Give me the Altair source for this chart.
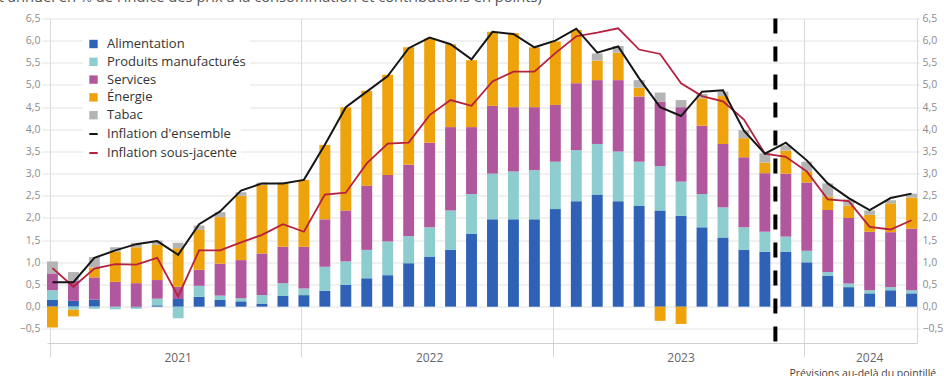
import altair as alt
import pandas as pd

mois = [f"{a}-{m:02d}" for a in (2021, 2022, 2023) for m in range(1, 13)] + [f"2024-{m:02d}" for m in range(1, 7)]

alimentation = [0.15, 0.13, 0.16, 0.0, -0.02, 0.03, 0.17, 0.22, 0.15, 0.12, 0.07, 0.24,
                0.26, 0.36, 0.49, 0.64, 0.71, 0.98, 1.13, 1.28, 1.64, 1.97, 1.97, 1.97,
                2.2, 2.38, 2.53, 2.38, 2.27, 2.17, 2.05, 1.79, 1.56, 1.28, 1.24, 1.24,
                1.0, 0.7, 0.44, 0.3, 0.37, 0.3]
manufactures = [0.22, -0.07, -0.05, -0.06, -0.03, 0.15, -0.26, 0.25, 0.1, 0.07, 0.19, 0.29,
                0.15, 0.54, 0.53, 0.64, 0.76, 0.61, 0.66, 0.89, 0.9, 1.03, 1.08, 1.11,
                1.07, 1.15, 1.14, 1.12, 1.0, 1.0, 0.77, 0.75, 0.68, 0.51, 0.45, 0.34,
                0.26, 0.08, 0.08, 0.07, 0.07, 0.07]
services = [0.38, 0.45, 0.5, 0.56, 0.53, 0.42, 0.28, 0.36, 0.72, 0.86, 0.94, 0.82,
            0.94, 1.07, 1.15, 1.45, 1.5, 1.61, 1.91, 1.88, 1.51, 1.53, 1.45, 1.42,
            1.28, 1.51, 1.44, 1.61, 1.47, 1.45, 1.68, 1.54, 1.43, 1.58, 1.32, 1.42,
            1.54, 1.4, 1.48, 1.32, 1.24, 1.39]
energie = [-0.47, -0.15, 0.22, 0.68, 0.81, 0.79, 0.87, 0.9, 1.05, 1.45, 1.55, 1.43,
           1.51, 1.68, 2.33, 2.14, 2.26, 2.65, 2.35, 1.87, 1.51, 1.67, 1.67, 1.35,
           1.43, 1.2, 0.44, 0.62, 0.2, -0.32, -0.39, 0.62, 1.08, 0.43, 0.24, 0.52,
           0.25, 0.3, 0.28, 0.38, 0.65, 0.7]
tabac = [0.27, 0.2, 0.24, 0.1, 0.1, 0.1, 0.12, 0.1, 0.11, 0.08, 0.05, 0.02,
         0.0, 0.0, 0.0, 0.0, 0.0, 0.0, 0.0, 0.0, 0.0, 0.0, 0.0, 0.0,
         0.0, 0.0, 0.16, 0.15, 0.17, 0.21, 0.16, 0.1, 0.1, 0.18, 0.21, 0.12,
         0.22, 0.3, 0.14, 0.1, 0.07, 0.09]
ensemble = [0.55, 0.55, 1.1, 1.27, 1.41, 1.48, 1.17, 1.86, 2.15, 2.62, 2.78, 2.78,
            2.86, 3.65, 4.5, 4.85, 5.2, 5.83, 6.07, 5.92, 5.58, 6.2, 6.15, 5.85,
            6.0, 6.27, 5.73, 5.87, 5.15, 4.5, 4.3, 4.85, 4.88, 3.97, 3.45, 3.7,
            3.3, 2.78, 2.45, 2.18, 2.45, 2.55]
sous_jacente = [0.87, 0.45, 0.86, 0.96, 0.95, 1.1, 0.23, 1.27, 1.27, 1.45, 1.62, 1.86,
                1.69, 2.53, 2.57, 3.23, 3.68, 3.7, 4.32, 4.66, 4.53, 5.08, 5.3, 5.3,
                5.72, 6.1, 6.18, 6.28, 5.8, 5.7, 5.04, 4.75, 4.63, 4.22, 3.45, 3.38,
                3.05, 2.42, 2.38, 1.8, 1.74, 1.95]

composantes = ["Alimentation", "Produits manufacturés", "Services", "Énergie", "Tabac"]
couleurs = ["#2f62b6", "#8dcdd0", "#b0579d", "#eea20c", "#b4b4b4"]
series = ["Inflation d'ensemble", "Inflation sous-jacente"]
couleurs_series = ["#161616", "#b5213e"]

debut_annees = ["2021-01", "2022-01", "2023-01", "2024-01"]
etiquettes_annees = ["2021-07", "2022-07", "2023-07", "2024-04"]
debut_prevision = "2023-12"
y_ticks = [-0.5, 0.0, 0.5, 1.0, 1.5, 2.0, 2.5, 3.0, 3.5, 4.0, 4.5, 5.0, 5.5, 6.0, 6.5]

titre = "(glissement annuel en % de l'indice des prix à la consommation et contributions en points)"
note = "Prévisions au-delà du pointillé"

rows = []
for rang, (nom, vals) in enumerate(zip(composantes, [alimentation, manufactures, services, energie, tabac])):
    for m, v in zip(mois, vals):
        rows.append({"mois": m, "composante": nom, "valeur": v, "rang": rang})
df_bars = pd.DataFrame(rows)

df_ens = pd.DataFrame({"mois": mois, "valeur": ensemble, "serie": series[0]})
df_sj = pd.DataFrame({"mois": mois, "valeur": sous_jacente, "serie": series[1]})
df_prev = pd.DataFrame({"mois": [debut_prevision]})

xscale = alt.Scale(type="band", domain=mois, paddingInner=0.48, paddingOuter=0)
yscale = alt.Scale(domain=[-0.82, 6.5], nice=False, zero=False)
lab = "replace(format(datum.value, '.1f'), '.', ',')"

grid_col = "#e2e2e2"

bars = alt.Chart(df_bars).mark_bar().encode(
    x=alt.X("mois:O", scale=xscale, axis=alt.Axis(
        orient="bottom", values=debut_annees, labels=False, ticks=True, tickSize=14,
        tickColor="#d6d6d6", grid=True, gridColor="#d9d9d9", domain=True,
        domainColor="#cfcfcf", title=None, bandPosition=0.3)),
    y=alt.Y("valeur:Q", stack="zero", scale=yscale, axis=alt.Axis(
        orient="left", values=y_ticks, labelExpr=lab, grid=True, gridColor=grid_col,
        domain=False, ticks=True, tickSize=5, tickColor=grid_col, labelPadding=2,
        labelFontSize=10.5, labelColor="#8c8c8c", title=None)),
    color=alt.Color("composante:N", scale=alt.Scale(domain=composantes, range=couleurs),
                    legend=alt.Legend(orient="none", legendX=36, legendY=15, title=None,
                                      symbolType="square", symbolSize=70, symbolStrokeWidth=0,
                                      labelFontSize=13, labelColor="#333333", rowPadding=3.8,
                                      labelOffset=7, fillColor="white", padding=4, zindex=1)),
    order=alt.Order("rang:Q"),
)

ligne_sj = alt.Chart(df_sj).mark_line(strokeWidth=1.8).encode(
    x=alt.X("mois:O", scale=xscale, axis=None),
    y=alt.Y("valeur:Q", scale=yscale, axis=None),
    stroke=alt.Stroke("serie:N", scale=alt.Scale(domain=series, range=couleurs_series),
                      legend=alt.Legend(orient="none", legendX=36, legendY=105, title=None,
                                        symbolType="stroke", symbolSize=70, symbolStrokeWidth=2,
                                        labelFontSize=13, labelColor="#333333", rowPadding=5,
                                        labelOffset=7, fillColor="white", padding=4, zindex=2)),
)

ligne_ens = alt.Chart(df_ens).mark_line(strokeWidth=2).encode(
    x=alt.X("mois:O", scale=xscale, axis=alt.Axis(
        orient="bottom", values=etiquettes_annees, labelExpr="substring(datum.value, 0, 4)",
        labelAngle=0, labelAlign="center", labelBaseline="top",
        ticks=False, grid=False, domain=False, labelPadding=9, labelFontSize=12,
        labelColor="#666666", title=note, titleX=742, titleY=33, titleAlign="left",
        titleBaseline="alphabetic", titleFontSize=10.5, titleFontWeight="normal",
        titleColor="#444444")),
    y=alt.Y("valeur:Q", scale=yscale, axis=alt.Axis(
        orient="right", values=y_ticks, labelExpr=lab, grid=False, domain=True,
        domainColor="#d6d6d6", ticks=True, tickSize=3, tickColor=grid_col, labelPadding=2,
        labelFontSize=10.5, labelColor="#8c8c8c", title=None)),
    stroke=alt.Stroke("serie:N", scale=alt.Scale(domain=series, range=couleurs_series)),
)

prevision = alt.Chart(df_prev).mark_rule(color="black", strokeWidth=4, strokeDash=[15, 13], xOffset=-5).encode(
    x=alt.X("mois:O", scale=xscale, bandPosition=0, axis=None),
)

chart = alt.layer(bars, ligne_sj, ligne_ens, prevision).resolve_axis(
    x="independent", y="independent"
).properties(
    width=870, height=324.5,
    autosize=alt.AutoSizeParams(type="none"),
    padding={"left": 47, "top": 18.5, "right": 27, "bottom": 33},
    title=alt.TitleParams(text=titre, anchor="start", frame="group", dx=-121, dy=9, orient="top",
                          fontSize=14.7, fontWeight="normal", color="#555555",
                          baseline="alphabetic", offset=6),
).configure(font="Open Sans").configure_view(stroke=None)

chart.save("out.html", embed_options={"renderer": "svg", "actions": False})
